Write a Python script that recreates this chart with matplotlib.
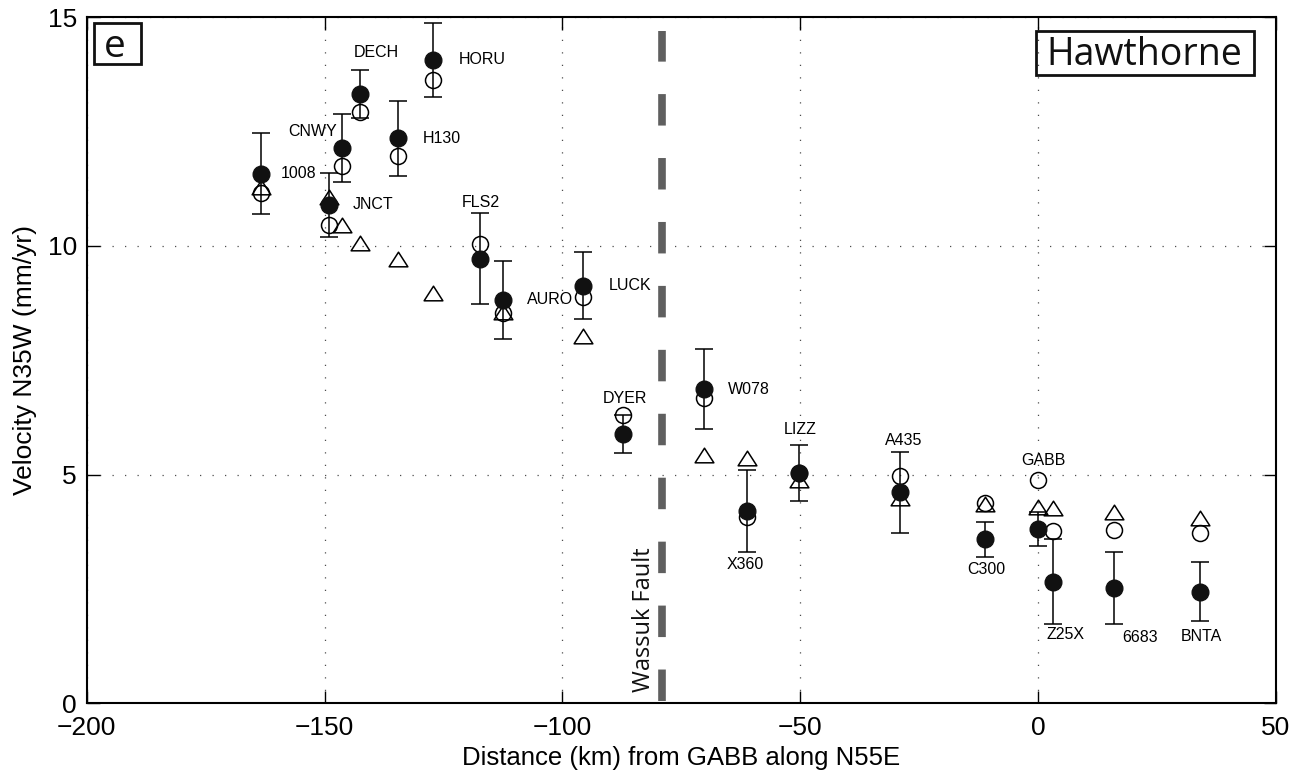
import numpy as np
import matplotlib
matplotlib.use('Agg')
import matplotlib.pyplot as plt
from matplotlib.patches import Rectangle
from matplotlib.path import Path

plt.rcParams['font.family'] = ['Liberation Sans', 'DejaVu Sans']

# GPS stations along the profile
names = ['1008', 'JNCT', 'CNWY', 'DECH', 'H130', 'HORU', 'FLS2', 'AURO', 'LUCK', 'DYER',
         'W078', 'X360', 'LIZZ', 'A435', 'C300', 'GABB', 'Z25X', '6683', 'BNTA']
dist = [-163.4, -149.1, -146.4, -142.5, -134.5, -127.1, -117.3, -112.4, -95.6, -87.3,
        -70.2, -61.2, -50.2, -29.0, -11.2, 0.0, 3.2, 16.0, 34.1]
# observed velocity (filled) and its uncertainty
vel_obs = [11.58, 10.90, 12.14, 13.33, 12.36, 14.07, 9.72, 8.82, 9.13, 5.89,
           6.87, 4.20, 5.03, 4.61, 3.58, 3.81, 2.65, 2.51, 2.44]
vel_err = [0.89, 0.70, 0.74, 0.52, 0.82, 0.82, 1.00, 0.85, 0.73, 0.42,
           0.87, 0.90, 0.61, 0.88, 0.39, 0.38, 0.93, 0.79, 0.64]
# model velocities (open circles and triangles)
vel_circ = [11.16, 10.46, 11.74, 12.94, 11.97, 13.64, 10.05, 8.54, 8.89, 6.30,
            6.67, 4.06, 5.03, 4.97, 4.38, 4.88, 3.76, 3.79, 3.71]
vel_tri = [11.29, 11.07, 10.46, 10.07, 9.71, 8.98, np.nan, 8.56, 8.03, np.nan,
           5.43, 5.36, 4.87, 4.48, 4.36, 4.30, 4.26, 4.17, 4.04]

fault_x = -79.0

# label placement: offset in pixels from the station, horizontal alignment
label_pos = {
    '1008': (20, 0, 'left'), 'JNCT': (24, 0, 'left'), 'CNWY': (-5, 17, 'right'),
    'DECH': (16, 41, 'center'), 'H130': (24, 0, 'left'), 'HORU': (25, 0, 'left'),
    'FLS2': (1, 56, 'center'), 'AURO': (24, 0, 'left'), 'LUCK': (25, 0, 'left'),
    'DYER': (2, 35, 'center'), 'W078': (24, 0, 'left'), 'X360': (-2, -53, 'center'),
    'LIZZ': (1, 44, 'center'), 'A435': (3, 52, 'center'), 'C300': (1, -30, 'center'),
    'GABB': (5, 68, 'center'), 'Z25X': (12, -53, 'center'), '6683': (26, -49, 'center'),
    'BNTA': (1, -45, 'center'),
}

fig = plt.figure(figsize=(13.02, 7.77), dpi=100)
ax = fig.add_axes([0.0666, 0.0952, 0.9134, 0.8823])

# flattened open triangle
tri = Path([(-1, -0.78), (1, -0.78), (0, 0.78), (-1, -0.78)],
           [Path.MOVETO, Path.LINETO, Path.LINETO, Path.CLOSEPOLY])

ax.errorbar(dist, vel_obs, yerr=vel_err, fmt='none', ecolor='k',
            elinewidth=1.1, capsize=6.5, capthick=1.1, zorder=3)
ax.plot(dist, vel_tri, linestyle='none', marker=tri, ms=13.5, mfc='none',
        mec='k', mew=1.1, zorder=4)
ax.plot(dist, vel_circ, linestyle='none', marker='o', ms=11.5, mfc='none',
        mec='k', mew=1.1, zorder=4)
ax.plot(dist, vel_obs, linestyle='none', marker='o', ms=12, mfc='#111111',
        mec='#111111', zorder=5)

for n, x, y in zip(names, dist, vel_obs):
    dx, dy, ha = label_pos[n]
    ax.annotate(n, (x, y), xytext=(dx, dy), textcoords='offset pixels',
                ha=ha, va='center', fontsize=11.5, zorder=6)

# Wassuk fault trace
ax.plot([fault_x, fault_x], [0.05, 14.71], color='#5f5f5f', lw=5.5,
        dashes=(4.12, 4.25), solid_capstyle='butt', dash_capstyle='butt', zorder=2)
ax.text(-82.8, 0.24, 'Wassuk Fault', rotation=90, ha='center', va='bottom',
        fontsize=17, family='Open Sans', color='#111111')

ax.set_xlim(-200, 50)
ax.set_ylim(0, 15)
ax.set_xticks([-200, -150, -100, -50, 0, 50])
ax.set_yticks([0, 5, 10, 15])
ax.grid(True, linestyle=(0, (1, 9)), color='0.3', lw=0.9)
ax.set_axisbelow(True)
ax.tick_params(direction='in', length=9, width=1, top=True, right=True,
               labelsize=19, pad=7)
ax.tick_params(axis='x', pad=9)
for s in ax.spines.values():
    s.set_linewidth(1.5)

ax.set_xlabel('Distance (km) from GABB along N55E', fontsize=18.5, labelpad=5)
ax.set_ylabel('Velocity N35W (mm/yr)', fontsize=19)
ax.yaxis.set_label_coords(-0.042, 0.5)

# panel letter and region name
ax.add_patch(Rectangle((0.0064, 0.932), 0.039, 0.0598, transform=ax.transAxes,
                       fill=False, lw=2, ec='#111111', zorder=7))
ax.text(0.0238, 0.9422, 'e', transform=ax.transAxes, ha='center', va='baseline',
        fontsize=28, family='Open Sans', color='#111111')
ax.add_patch(Rectangle((0.798, 0.9164), 0.1835, 0.0646, transform=ax.transAxes,
                       fill=False, lw=2, ec='#111111', zorder=7))
ax.text(0.8895, 0.931, 'Hawthorne', transform=ax.transAxes, ha='center',
        va='baseline', fontsize=27, family='Open Sans', color='#111111')

fig.savefig('out.png', dpi=100)
